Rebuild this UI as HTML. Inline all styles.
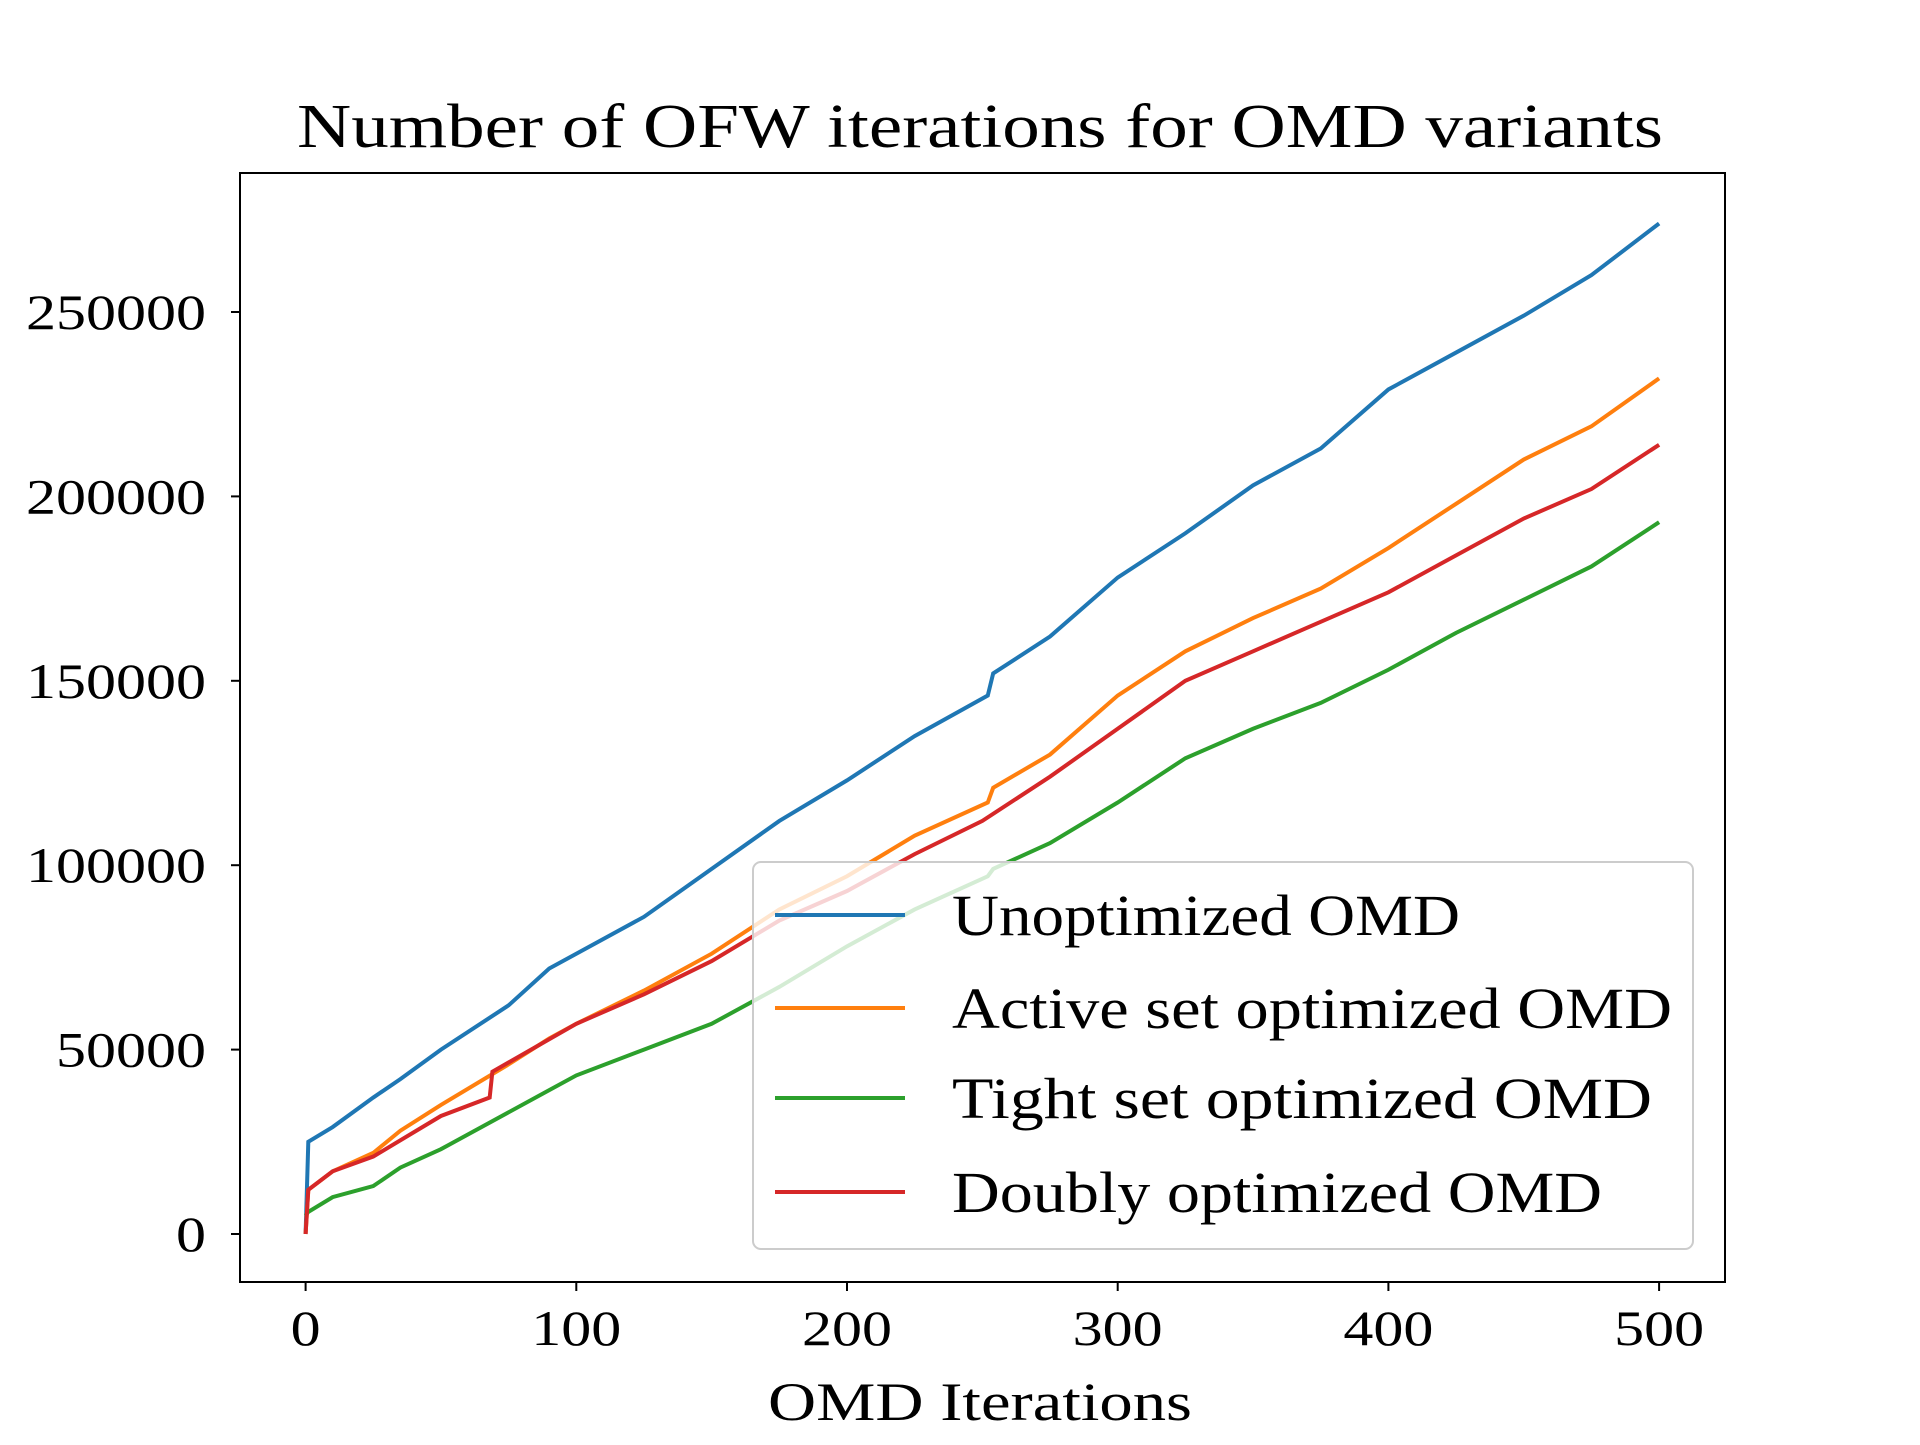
<!DOCTYPE html>
<html><head><meta charset="utf-8"><style>
html,body{margin:0;padding:0;background:#fff}
svg text{font-family:"Liberation Serif",serif;fill:#000}
</style></head><body>
<svg id="chart" width="1920" height="1440" viewBox="0 0 1920 1440">
<text x="980" y="147" font-size="62" text-anchor="middle" textLength="1366" lengthAdjust="spacingAndGlyphs">Number of OFW iterations for OMD variants</text>
<g id="plot"></g>
<rect x="240" y="173" width="1485" height="1109" fill="none" stroke="#000" stroke-width="2"/>
<g id="ticks"></g>
<text x="980" y="1420" font-size="54" text-anchor="middle" textLength="424" lengthAdjust="spacingAndGlyphs">OMD Iterations</text>
<g id="legend"></g>
</svg>
<script>
const xs=[0,1,10,25,35,50,75,90,100,125,150,175,200,225,252,254,275,300,325,350,375,400,425,450,475,500];
const blue=[0,25000,29000,37000,42000,50000,62000,72000,76000,86000,99000,112000,123000,135000,146000,152000,162000,178000,190000,203000,213000,229000,239000,249000,260000,274000];
const orange=[0,12000,17000,22000,28000,35000,46000,53000,57000,66000,76000,88000,97000,108000,117000,121000,130000,146000,158000,167000,175000,186000,198000,210000,219000,232000];
const redX=[0,1,10,25,50,68,69,100,125,150,175,200,225,250,275,300,325,350,375,400,425,450,475,500];
const red=[0,12000,17000,21000,32000,37000,44000,57000,65000,74000,85000,93000,103000,112000,124000,137000,150000,158000,166000,174000,184000,194000,202000,214000];
const green=[5000,6000,10000,13000,18000,23000,33000,39000,43000,50000,57000,67000,78000,88000,97000,99000,106000,117000,129000,137000,144000,153000,163000,172000,181000,193000];
const xTicks=[0,100,200,300,400,500];
const yTicks=[0,50000,100000,150000,200000,250000];
const names=["Unoptimized OMD","Active set optimized OMD","Tight set optimized OMD","Doubly optimized OMD"];
const nameW=[508,720,700,650];
const colors=["#1f77b4","#ff7f0e","#2ca02c","#d62728"];
const NS="http://www.w3.org/2000/svg";
const X=v=>305.6+v*2.707;
const Y=v=>1234-v*(184.4/50000);
const plot=document.getElementById('plot');
function line(xa,ya,c,name){
  const p=document.createElementNS(NS,'polyline');
  p.setAttribute('points',xa.map((x,i)=>X(x)+','+Y(ya[i])).join(' '));
  p.setAttribute('fill','none');p.setAttribute('stroke',c);p.setAttribute('stroke-width','4');
  
  
  plot.appendChild(p);
}
line(xs,blue,colors[0],'series-unoptimized');
line(xs,orange,colors[1],'series-active-set');
line(xs,green,colors[2],'series-tight-set');
line(redX,red,colors[3],'series-doubly');
const tk=document.getElementById('ticks');
xTicks.forEach(v=>{
  const l=document.createElementNS(NS,'line');
  l.setAttribute('x1',X(v));l.setAttribute('x2',X(v));l.setAttribute('y1',1282);l.setAttribute('y2',1291);l.setAttribute('stroke','#000');l.setAttribute('stroke-width','2');
  
  
  tk.appendChild(l);
  const t=document.createElementNS(NS,'text');
  t.setAttribute('x',X(v));t.setAttribute('y',1345);t.setAttribute('font-size','50');t.setAttribute('text-anchor','middle');
  t.setAttribute('textLength',String(v).length*30);t.setAttribute('lengthAdjust','spacingAndGlyphs');
  t.textContent=v;
  
  
  tk.appendChild(t);
});
yTicks.forEach(v=>{
  const l=document.createElementNS(NS,'line');
  l.setAttribute('x1',231);l.setAttribute('x2',240);l.setAttribute('y1',Y(v));l.setAttribute('y2',Y(v));l.setAttribute('stroke','#000');l.setAttribute('stroke-width','2');
  
  
  tk.appendChild(l);
  const t=document.createElementNS(NS,'text');
  t.setAttribute('x',206);t.setAttribute('y',Y(v)+17);t.setAttribute('font-size','50');t.setAttribute('text-anchor','end');
  t.setAttribute('textLength',String(v).length*30);t.setAttribute('lengthAdjust','spacingAndGlyphs');
  t.textContent=v;
  
  
  tk.appendChild(t);
});
const lg=document.getElementById('legend');
const box=document.createElementNS(NS,'rect');
box.setAttribute('x',753);box.setAttribute('y',862);box.setAttribute('width',940);box.setAttribute('height',387);box.setAttribute('rx',8);
box.setAttribute('fill','rgba(255,255,255,0.8)');box.setAttribute('stroke','#ccc');box.setAttribute('stroke-width','2');


lg.appendChild(box);
names.forEach((n,i)=>{
  const y=[915,1008,1098,1192][i];
  const l=document.createElementNS(NS,'line');
  l.setAttribute('x1',775);l.setAttribute('x2',905);l.setAttribute('y1',y);l.setAttribute('y2',y);l.setAttribute('stroke',colors[i]);l.setAttribute('stroke-width','4');
  
  
  lg.appendChild(l);
  const t=document.createElementNS(NS,'text');
  t.setAttribute('x',952);t.setAttribute('y',y+20);t.setAttribute('font-size','58');
  t.setAttribute('textLength',nameW[i]);t.setAttribute('lengthAdjust','spacingAndGlyphs');
  t.textContent=n;
  
  
  lg.appendChild(t);
});
</script>
</body></html>
